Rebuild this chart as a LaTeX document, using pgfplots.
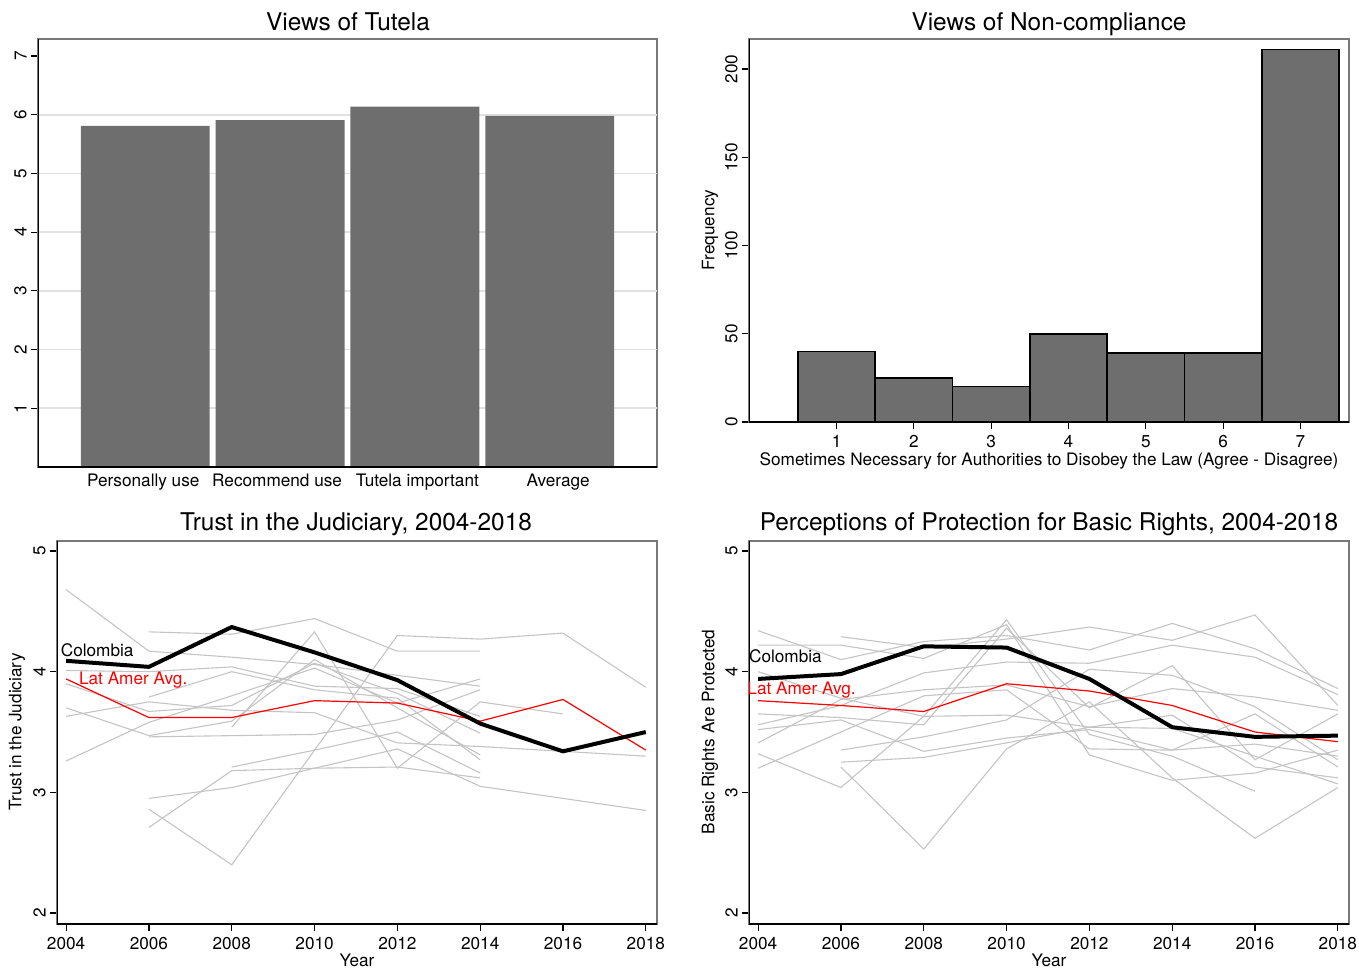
\documentclass[border=0pt]{standalone}
\usepackage{pgfplots}
\pgfplotsset{compat=1.18}
\usepackage{fontspec}
\setmainfont{TeX Gyre Heros}
\definecolor{barg}{RGB}{110,110,110}
\definecolor{lineg}{RGB}{196,196,196}
\definecolor{frameg}{RGB}{120,120,120}
\definecolor{gridg}{RGB}{225,225,225}
\newcommand{\lab}{\fontsize{8.6}{10}\selectfont}
\newcommand{\ttl}{\fontsize{12.2}{14}\selectfont}
\pgfplotsset{
  panel/.style={scale only axis, axis line style={draw=frameg, line width=0.7pt},
    tick style={black, line width=0.6pt}, tick align=outside, major tick length=3.5pt,
    ticklabel style={font=\lab}, /pgf/number format/assume math mode=true,
    /pgf/number format/1000 sep={},
    yticklabel style={rotate=90, anchor=south, inner sep=2pt},
    xticklabel style={yshift=0.5pt},
    xtick pos=left, ytick pos=left, minor tick num=0},
  gl/.style={lineg, line width=0.55pt, mark=none},
  col/.style={black, line width=2pt, mark=none, line join=round},
  lat/.style={red, line width=0.6pt, mark=none},
}
\begin{document}
\begin{tikzpicture}
\useasboundingbox (0,0) rectangle (679.5pt,-484pt);
% ---------- Panel 1 ----------
\begin{axis}[panel, at={(19pt,-233.5pt)}, anchor=south west, width=309.5pt, height=214pt,
  xmin=0.204, xmax=4.796, ymin=0, ymax=7.29,
  ytick={1,...,7}, xtick={0.985,1.978,3.018,4.063},
  xticklabels={Personally use,Recommend use,Tutela important,Average},
  x tick style={draw=none}, xticklabel style={inner sep=1pt, yshift=0.5pt},
  extra y ticks={1,2,3,4,5,6}, extra y tick labels={},
  extra y tick style={grid=major, major grid style={gridg, line width=0.8pt}, tick style={draw=none}},
  ybar, bar width=0.956]
\addplot[fill=barg, draw=none] coordinates {(1,5.81) (2,5.91) (3,6.14) (4,5.98)};
\draw[black, line width=0.8pt] (rel axis cs:0,0) -- (rel axis cs:0,1);
\draw[black, line width=0.8pt] (rel axis cs:0,0) -- (rel axis cs:1,0);
\end{axis}
% ---------- Panel 2 ----------
\begin{axis}[panel, at={(374.5pt,-211pt)}, anchor=south west, width=300pt, height=191.5pt,
  xmin=-0.133, xmax=7.629, ymin=0, ymax=217,
  ytick={0,50,100,150,200}, xtick={1,...,7},
  ybar, bar width=1]
\addplot[fill=barg, draw=black, line width=0.75pt] coordinates {(1,40) (2,25) (3,20) (4,50) (5,39) (6,39) (7,211)};
\draw[black, line width=0.8pt] (rel axis cs:0,0) -- (rel axis cs:0,1);
\draw[black, line width=0.8pt] (rel axis cs:0,0) -- (rel axis cs:1,0);
\end{axis}
% ---------- Panel 3 ----------
\begin{axis}[panel, at={(28.5pt,-462pt)}, anchor=south west, width=300pt, height=191.5pt,
  xmin=2003.78, xmax=2018.27, ymin=1.909, ymax=5.083,
  ytick={2,3,4,5}, xtick={2004,2006,...,2018}]
\addplot[gl] coordinates {(2004,4.68) (2006,4.17) (2008,4.12) (2010,4.06) (2012,3.97) (2014,3.88)};
\addplot[gl] coordinates {(2006,4.33) (2008,4.31) (2010,4.44) (2012,4.17) (2014,4.17)};
\addplot[gl] coordinates {(2004,4.01) (2006,4.00) (2008,4.04) (2010,3.88) (2012,3.86) (2014,3.63)};
\addplot[gl] coordinates {(2004,3.90) (2006,3.67) (2008,3.72) (2010,4.07) (2012,3.82) (2014,3.49)};
\addplot[gl] coordinates {(2006,3.79) (2008,4.00) (2010,3.85) (2012,3.78) (2014,3.27)};
\addplot[gl] coordinates {(2004,3.70) (2006,3.47) (2008,3.59) (2010,4.10) (2012,3.70) (2014,3.31)};
\addplot[gl] coordinates {(2004,3.63) (2006,3.75) (2008,3.68) (2010,3.66) (2012,3.41) (2014,3.38) (2016,3.34) (2018,3.30)};
\addplot[gl] coordinates {(2004,3.26) (2006,3.58) (2008,3.80) (2010,4.03) (2012,3.74) (2014,3.94)};
\addplot[gl] coordinates {(2006,3.46) (2008,3.47) (2010,3.48) (2012,3.60) (2014,3.85)};
\addplot[gl] coordinates {(2006,2.95) (2008,3.04) (2010,3.20) (2012,3.36) (2014,3.05) (2016,2.95) (2018,2.85)};
\addplot[gl] coordinates {(2006,2.86) (2008,2.40) (2012,4.30) (2014,4.27) (2016,4.32) (2018,3.87)};
\addplot[gl] coordinates {(2006,2.71) (2008,3.18) (2010,3.20) (2012,3.21) (2014,3.12)};
\addplot[gl] coordinates {(2008,3.54) (2010,4.33) (2012,3.20) (2014,3.75) (2016,3.65)};
\addplot[gl] coordinates {(2008,3.21) (2010,3.35) (2012,3.50) (2014,3.16)};
\addplot[lat] coordinates {(2004,3.94) (2006,3.62) (2008,3.62) (2010,3.76) (2012,3.74) (2014,3.59) (2016,3.77) (2018,3.35)};
\addplot[col] coordinates {(2004,4.09) (2006,4.04) (2008,4.37) (2010,4.16) (2012,3.93) (2014,3.57) (2016,3.34) (2018,3.50)};
\draw[black, line width=0.8pt] (rel axis cs:0,0) -- (rel axis cs:0,1);
\draw[black, line width=0.8pt] (rel axis cs:0,0) -- (rel axis cs:1,0);
\node[font=\lab, black] at (axis cs:2004.75,4.18) {Colombia};
\node[font=\lab, red] at (axis cs:2005.62,3.93) {Lat Amer Avg.};
\end{axis}
% ---------- Panel 4 ----------
\begin{axis}[panel, at={(374.5pt,-462pt)}, anchor=south west, width=300pt, height=191.5pt,
  xmin=2003.78, xmax=2018.27, ymin=1.909, ymax=5.083,
  ytick={2,3,4,5}, xtick={2004,2006,...,2018}]
\addplot[gl] coordinates {(2004,4.34) (2006,4.10) (2008,4.25) (2010,4.30) (2012,4.18) (2014,4.40) (2016,4.19) (2018,3.86)};
\addplot[gl] coordinates {(2004,4.22) (2006,4.22) (2008,4.11) (2010,4.39) (2012,3.31) (2014,3.10) (2016,3.16) (2018,3.35)};
\addplot[gl] coordinates {(2006,4.29) (2008,4.20) (2010,4.27) (2012,4.37) (2014,4.26) (2016,4.47) (2018,3.72)};
\addplot[gl] coordinates {(2004,4.00) (2006,3.78) (2008,3.63) (2010,4.43) (2012,3.48) (2014,3.30) (2016,3.01)};
\addplot[gl] coordinates {(2004,3.65) (2006,3.62) (2008,3.56) (2010,4.36) (2012,3.70) (2014,4.05) (2016,3.27) (2018,3.65)};
\addplot[gl] coordinates {(2004,3.56) (2006,3.72) (2008,3.99) (2010,4.08) (2012,4.07) (2014,4.22) (2016,4.12) (2018,3.81)};
\addplot[gl] coordinates {(2004,3.41) (2006,3.77) (2008,3.85) (2010,3.89) (2012,3.71) (2014,3.86) (2016,3.79) (2018,3.68)};
\addplot[gl] coordinates {(2004,3.32) (2006,3.04) (2008,3.63) (2010,3.64) (2012,3.54) (2014,3.64) (2016,3.21) (2018,3.12)};
\addplot[gl] coordinates {(2004,3.20) (2006,3.50) (2008,3.80) (2010,3.85) (2012,3.36) (2014,3.35) (2016,3.65) (2018,3.21)};
\addplot[gl] coordinates {(2006,3.35) (2008,3.46) (2010,3.60) (2012,4.02) (2014,3.97) (2016,3.71) (2018,3.27)};
\addplot[gl] coordinates {(2006,3.25) (2008,3.29) (2010,3.41) (2012,3.54) (2014,3.53) (2016,3.30) (2018,3.07)};
\addplot[gl] coordinates {(2006,3.21) (2008,2.53) (2010,3.36) (2012,3.75) (2014,3.12) (2016,2.62) (2018,3.04)};
\addplot[gl] coordinates {(2004,3.52) (2006,3.60) (2008,3.34) (2010,3.45) (2012,3.52) (2014,3.35) (2016,3.40) (2018,3.30)};
\addplot[lat] coordinates {(2004,3.76) (2006,3.72) (2008,3.67) (2010,3.90) (2012,3.84) (2014,3.72) (2016,3.50) (2018,3.42)};
\addplot[col] coordinates {(2004,3.94) (2006,3.98) (2008,4.21) (2010,4.20) (2012,3.94) (2014,3.54) (2016,3.46) (2018,3.47)};
\draw[black, line width=0.8pt] (rel axis cs:0,0) -- (rel axis cs:0,1);
\draw[black, line width=0.8pt] (rel axis cs:0,0) -- (rel axis cs:1,0);
\node[font=\lab, black] at (axis cs:2004.66,4.13) {Colombia};
\node[font=\lab, red] at (axis cs:2005.05,3.85) {Lat Amer Avg.};
\end{axis}
% ---------- titles and labels ----------
\node[font=\ttl, anchor=base] at (174pt,-15.5pt) {Views of Tutela};
\node[font=\ttl, anchor=base] at (524.5pt,-15.5pt) {Views of Non-compliance};
\node[font=\ttl, anchor=base] at (178pt,-265pt) {Trust in the Judiciary, 2004-2018};
\node[font=\ttl, anchor=base] at (524.5pt,-265pt) {Perceptions of Protection for Basic Rights, 2004-2018};
\node[font=\lab, rotate=90] at (355pt,-115pt) {Frequency};
\node[font=\lab] at (524.5pt,-230.5pt) {Sometimes Necessary for Authorities to Disobey the Law (Agree - Disagree)};
\node[font=\lab, rotate=90] at (8.5pt,-366pt) {Trust in the Judiciary};
\node[font=\lab, rotate=90] at (355pt,-366pt) {Basic Rights Are Protected};
\node[font=\lab] at (178.5pt,-480pt) {Year};
\node[font=\lab] at (524.5pt,-480pt) {Year};
\end{tikzpicture}
\end{document}
